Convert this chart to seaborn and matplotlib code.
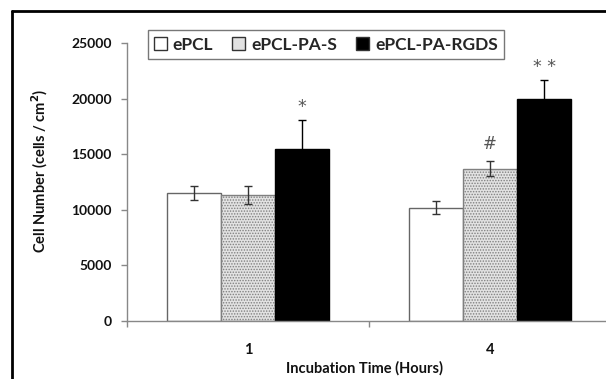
import matplotlib
matplotlib.use("Agg")
import matplotlib.pyplot as plt
import seaborn as sns
import pandas as pd
from matplotlib.lines import Line2D

# data
times = ["1", "4"]
scaffolds = ["ePCL", "ePCL-PA-S", "ePCL-PA-RGDS"]
cell_number = {
    "ePCL": [11500, 10200],
    "ePCL-PA-S": [11300, 13700],
    "ePCL-PA-RGDS": [15500, 20000],
}
cell_err = {
    "ePCL": [600, 600],
    "ePCL-PA-S": [800, 700],
    "ePCL-PA-RGDS": [2600, 1700],
}
# significance marks (scaffold, time index, label)
marks = [("ePCL-PA-RGDS", 0, "*"), ("ePCL-PA-S", 1, "#"), ("ePCL-PA-RGDS", 1, "* *")]
y_ticks = [0, 5000, 10000, 15000, 20000, 25000]

rows = []
for s in scaffolds:
    for i, t in enumerate(times):
        rows.append({"time": t, "scaffold": s, "cells": cell_number[s][i]})
df = pd.DataFrame(rows)

sns.set_theme(style="white")
plt.rcParams["font.family"] = ["Lato", "DejaVu Sans"]
plt.rcParams["font.weight"] = "bold"
plt.rcParams["hatch.linewidth"] = 0.7

fig = plt.figure(figsize=(6.06, 3.79), dpi=100)
ax = fig.add_axes([127 / 606, 1 - 321 / 379, 484 / 606, 278 / 379])

palette = {"ePCL": "white", "ePCL-PA-S": "#e2e2e2", "ePCL-PA-RGDS": "black"}
sns.barplot(data=df, x="time", y="cells", hue="scaffold", order=times, hue_order=scaffolds,
            palette=palette, width=0.67, gap=0, errorbar=None, saturation=1, ax=ax,
            edgecolor="#555555", linewidth=1)

# styles per series + error bars from the bar positions
edge = {"ePCL": "#666666", "ePCL-PA-S": "#808080", "ePCL-PA-RGDS": "black"}
err_col = {"ePCL": "#333333", "ePCL-PA-S": "#333333", "ePCL-PA-RGDS": "black"}
centers = {}
for s, cont in zip(scaffolds, ax.containers):
    xs = []
    for p in cont.patches:
        p.set_edgecolor(edge[s])
        if s == "ePCL-PA-S":
            p.set_hatch("......")
        xs.append(p.get_x() + p.get_width() / 2)
    centers[s] = xs
    ax.errorbar(xs, cell_number[s], yerr=cell_err[s], fmt="none", ecolor=err_col[s],
                elinewidth=1, capsize=3, capthick=1, zorder=5)

for s, i, lab in marks:
    ax.annotate(lab, (centers[s][i], cell_number[s][i] + cell_err[s][i]),
                xytext=(0, 3 if lab != "#" else 6), textcoords="offset points",
                ha="center", va="bottom", fontsize=12.5 if lab != "#" else 12,
                color="#555555", fontweight="normal", family="DejaVu Sans")

ax.set_ylim(0, 25000)
ax.set_xlim(-0.5, 1.5)
ax.set_yticks(y_ticks)
ax.set_yticklabels([str(v) for v in y_ticks], fontsize=10, fontweight="bold", color="#111111")
ax.set_xticks([-0.5, 0.5, 1.5])
ax.set_xticklabels(["", "", ""])
ax.set_xticks([0, 1], minor=True)
ax.set_xticklabels(times, minor=True, fontsize=10.5, fontweight="bold", color="#111111")
ax.tick_params(axis="y", which="major", direction="out", length=4, width=1, color="#888888", pad=7, left=True)
ax.tick_params(axis="x", which="major", direction="out", length=4, width=1, color="#888888", bottom=True)
ax.tick_params(axis="x", which="minor", length=0, pad=16)

for side in ["top", "right"]:
    ax.spines[side].set_visible(False)
for side in ["left", "bottom"]:
    ax.spines[side].set_color("#888888")
    ax.spines[side].set_linewidth(1)

ax.set_xlabel("Incubation Time (Hours)", fontsize=10.5, fontweight="bold", color="#111111")
ax.set_ylabel("Cell Number (cells / cm$^{2}$)", fontsize=10.5, fontweight="bold", color="#111111")
ax.xaxis.set_label_coords((364 - 127) / 484, (321 - 361) / 278)
ax.yaxis.set_label_coords((50 - 127) / 484, (321 - 171) / 278)

leg = ax.legend(loc="center", bbox_to_anchor=(326 / 606, 1 - 44.5 / 379),
                bbox_transform=fig.transFigure, ncol=3, frameon=True, fancybox=False,
                handlelength=0.75, handleheight=0.75, handletextpad=0.35, columnspacing=1.1,
                borderpad=0.35, prop={"family": ["Lato", "DejaVu Sans"], "weight": "bold", "size": 12.5})
leg.get_frame().set_edgecolor("#555555")
leg.get_frame().set_linewidth(1)
for h in leg.legend_handles:
    h.set_edgecolor("#333333")

# outer frame of the figure panel
fig.add_artist(Line2D([12 / 606, 12 / 606], [0, 1 - 10.5 / 379], transform=fig.transFigure,
                      color="black", lw=2))
fig.add_artist(Line2D([12 / 606, 1], [1 - 10.5 / 379, 1 - 10.5 / 379], transform=fig.transFigure,
                      color="black", lw=2))

fig.savefig("out.png", dpi=100)
